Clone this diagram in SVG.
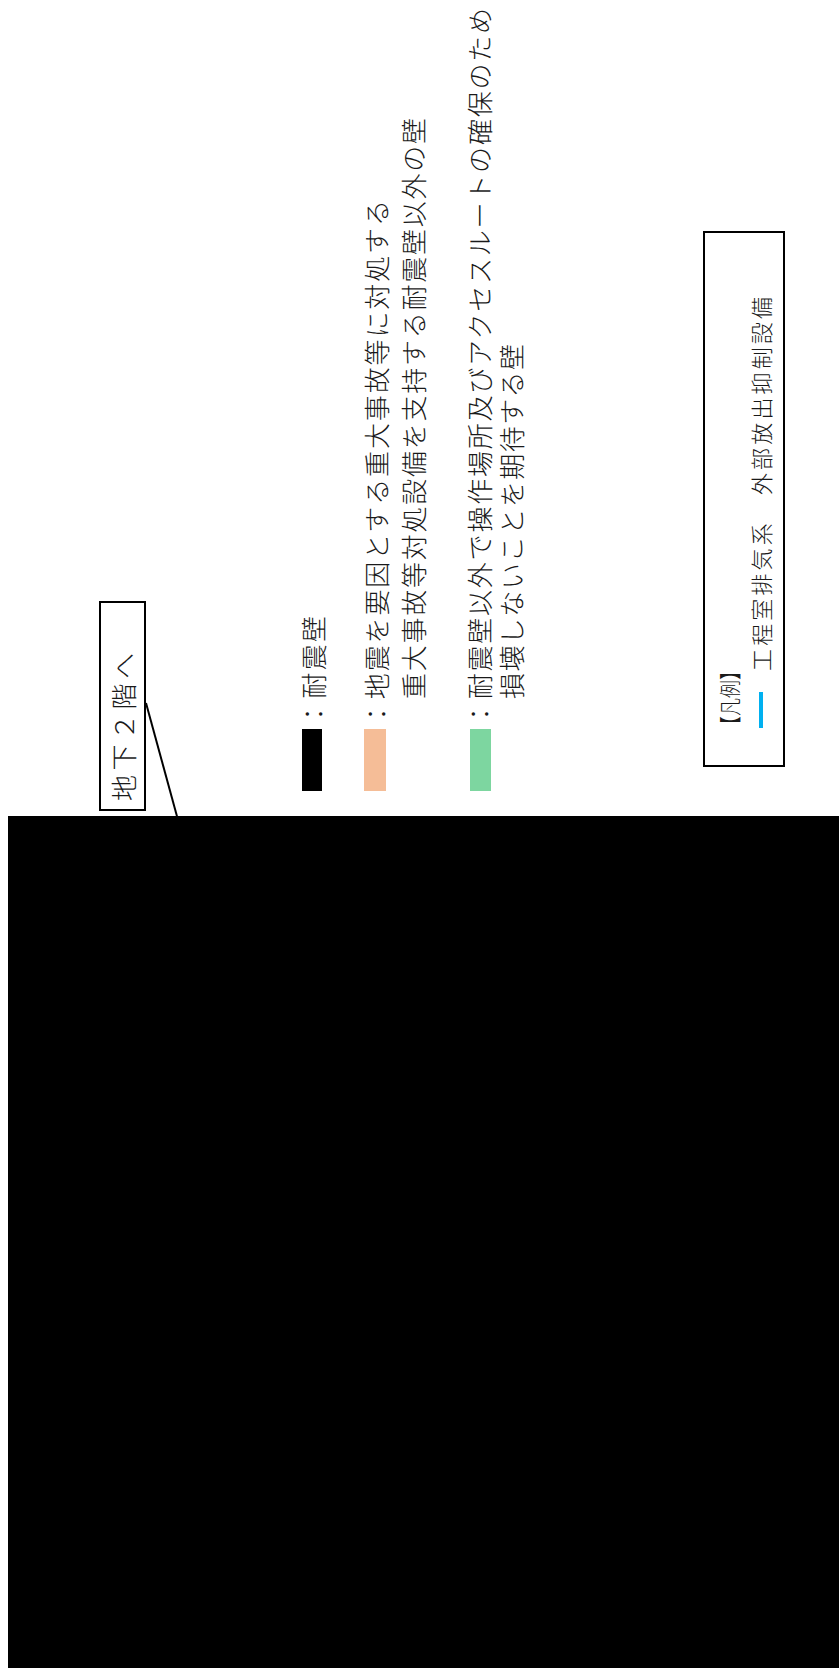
<svg xmlns="http://www.w3.org/2000/svg" width="839" height="1668" viewBox="0 0 839 1668">
<style>
.t{font-family:"Noto Sans CJK JP","Noto Sans CJK SC",sans-serif;font-weight:300;fill:#1a1a1a;dominant-baseline:central;text-anchor:start}
.f26{font-size:26px}
.f22{font-size:22px}
.box{fill:#ffffff;stroke:#000000;stroke-width:2}
.lead{stroke:#000000;stroke-width:2;fill:none}
</style>
<rect x="0" y="0" width="839" height="1668" fill="#ffffff"/>
<g id="connectors">
<line class="lead" x1="146" y1="703" x2="178" y2="820"/>
</g>
<g id="node-b2-label">
<rect class="box" x="100" y="602" width="45" height="208"/>
<text class="t" style="font-size:26px" transform="translate(122,801) rotate(-90)" textLength="148" lengthAdjust="spacing">地下２階へ</text>
</g>
<g id="node-legend-walls">
<rect x="302" y="729" width="20" height="62" fill="#000000"/>
<text class="t f26" transform="translate(312,727) rotate(-90)" textLength="111" lengthAdjust="spacing">：耐震壁</text>
<rect x="364" y="729" width="22" height="62" fill="#F5BD97"/>
<text class="t f26" transform="translate(375,727) rotate(-90)" textLength="527" lengthAdjust="spacing">：地震を要因とする重大事故等に対処する</text>
<text class="t f26" transform="translate(412,699) rotate(-90)" textLength="581" lengthAdjust="spacing">重大事故等対処設備を支持する耐震壁以外の壁</text>
<rect x="470" y="729" width="21" height="62" fill="#7DD6A0"/>
<text class="t f26" transform="translate(478,727) rotate(-90)" textLength="719" lengthAdjust="spacing">：耐震壁以外で操作場所及びアクセスルートの確保のため</text>
<text class="t f26" transform="translate(510,699) rotate(-90)" textLength="355" lengthAdjust="spacing">損壊しないことを期待する壁</text>
</g>
<g id="node-legend-box">
<rect class="box" x="704" y="232" width="80" height="534"/>
<text class="t f22" transform="translate(728,734) rotate(-90)" textLength="72" lengthAdjust="spacingAndGlyphs">【凡例】</text>
<line x1="761" y1="692" x2="761" y2="728" stroke="#00B0F0" stroke-width="4"/>
<text class="t f22" transform="translate(760,671) rotate(-90)" textLength="374" lengthAdjust="spacing">工程室排気系　外部放出抑制設備</text>
</g>
<g id="node-masked-area">
<rect x="8" y="816" width="831" height="852" fill="#000000"/>
</g>
</svg>
